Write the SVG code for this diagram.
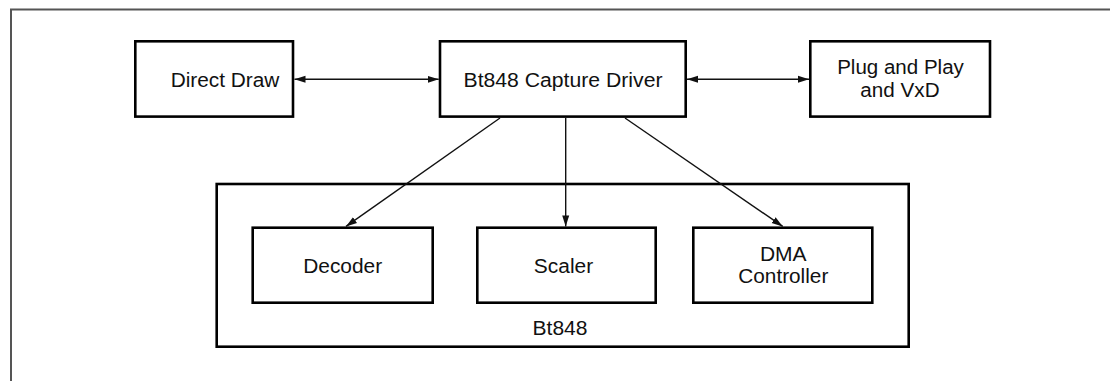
<svg xmlns="http://www.w3.org/2000/svg" width="1110" height="381" viewBox="0 0 1110 381">
<defs>
<style>
.box{fill:#fff;stroke:#000;stroke-width:2.6}
.grp{fill:none;stroke:#000;stroke-width:2.6}
.lbl{font-family:"Liberation Sans",Arial,sans-serif;font-size:20px;fill:#111;text-anchor:middle}
.con{stroke:#111;stroke-width:1.4;fill:none}
.frame{stroke:#555;stroke-width:2;fill:none}
</style>
<marker id="ah" markerUnits="userSpaceOnUse" markerWidth="12" markerHeight="8" refX="11" refY="4" orient="auto-start-reverse">
<path d="M0,0.5 L11,4 L0,7.5 z" fill="#111"/>
</marker>
</defs>
<rect width="1110" height="381" fill="#fff"/>
<path class="frame" d="M11,381 V9.5 H1110"/>
<g id="bt848">
<rect class="grp" x="216.7" y="184" width="692" height="162.7"/>
<text class="lbl" x="560" y="335" textLength="55" lengthAdjust="spacingAndGlyphs">Bt848</text>
</g>
<g id="direct-draw">
<rect class="box" x="135.3" y="41.3" width="157.7" height="75.3"/>
<text class="lbl" x="225" y="87" textLength="108.7" lengthAdjust="spacingAndGlyphs">Direct Draw</text>
</g>
<g id="capture-driver">
<rect class="box" x="440" y="41.3" width="245.7" height="75.3"/>
<text class="lbl" x="563" y="87" textLength="199" lengthAdjust="spacingAndGlyphs">Bt848 Capture Driver</text>
</g>
<g id="plug-and-play">
<rect class="box" x="810.3" y="41.3" width="179.7" height="75.3"/>
<text class="lbl" x="900.5" y="74" textLength="126.7" lengthAdjust="spacingAndGlyphs">Plug and Play</text>
<text class="lbl" x="900" y="96.5" textLength="79.3" lengthAdjust="spacingAndGlyphs">and VxD</text>
</g>
<g id="decoder">
<rect class="box" x="252.7" y="227.7" width="180" height="75"/>
<text class="lbl" x="342.7" y="273" textLength="79" lengthAdjust="spacingAndGlyphs">Decoder</text>
</g>
<g id="scaler">
<rect class="box" x="477.3" y="227.7" width="178.4" height="75"/>
<text class="lbl" x="563.5" y="273" textLength="59.3" lengthAdjust="spacingAndGlyphs">Scaler</text>
</g>
<g id="dma-controller">
<rect class="box" x="693.3" y="227.7" width="179" height="75"/>
<text class="lbl" x="783.3" y="260.5" textLength="46.7" lengthAdjust="spacingAndGlyphs">DMA</text>
<text class="lbl" x="783.3" y="283" textLength="90" lengthAdjust="spacingAndGlyphs">Controller</text>
</g>
<g id="connectors">
<line class="con" x1="294.5" y1="79.3" x2="438.7" y2="79.3" marker-start="url(#ah)" marker-end="url(#ah)"/>
<line class="con" x1="687" y1="79.3" x2="809" y2="79.3" marker-start="url(#ah)" marker-end="url(#ah)"/>
<line class="con" x1="500" y1="118" x2="346" y2="226.4" marker-end="url(#ah)"/>
<line class="con" x1="565.7" y1="118" x2="565.7" y2="226.4" marker-end="url(#ah)"/>
<line class="con" x1="625" y1="118" x2="782.7" y2="226.4" marker-end="url(#ah)"/>
</g>
</svg>
